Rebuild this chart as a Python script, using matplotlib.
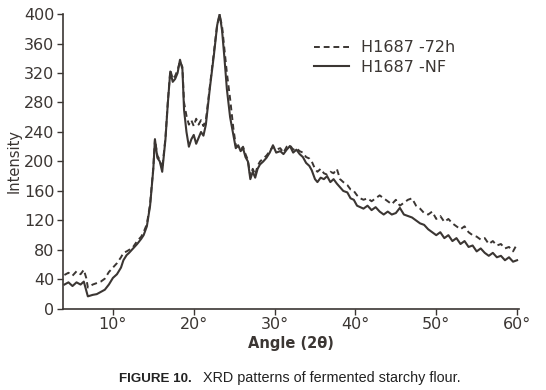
import numpy as np
import matplotlib.pyplot as plt

# diffraction angle (2 theta, degrees), shared by both scans
angle = [4.0, 4.5, 5.0, 5.5, 6.0, 6.4, 6.7, 6.9, 7.5, 8.0, 8.5, 9.0, 9.5, 10.0, 10.5,
         11.0, 11.3, 11.7, 12.0, 12.5, 13.0, 13.5, 13.8, 14.2, 14.6, 15.0, 15.2, 15.5,
         15.8, 16.1, 16.5, 16.8, 17.1, 17.4, 17.7, 18.0, 18.3, 18.6, 18.8, 19.1, 19.4,
         19.7, 20.0, 20.3, 20.6, 20.9, 21.2, 21.5, 22.0, 22.5, 22.9, 23.2, 23.5, 23.8,
         24.1, 24.5, 24.9, 25.2, 25.5, 25.8, 26.1, 26.4, 26.7, 27.0, 27.3, 27.6, 27.9,
         28.2, 28.6, 29.0, 29.4, 29.8, 30.2, 30.7, 31.1, 31.5, 31.9, 32.3, 32.7, 33.1,
         33.5, 33.9, 34.3, 34.6, 35.0, 35.3, 35.7, 36.1, 36.5, 36.9, 37.3, 37.7, 38.1,
         38.5, 39.0, 39.4, 39.8, 40.2, 40.6, 41.0, 41.5, 42.0, 42.5, 43.0, 43.5, 44.0,
         44.5, 45.0, 45.5, 46.0, 46.5, 47.0, 47.5, 48.0, 48.5, 49.0, 49.5, 50.0, 50.5,
         51.0, 51.5, 52.0, 52.5, 53.0, 53.5, 54.0, 54.5, 55.0, 55.5, 56.0, 56.5, 57.0,
         57.5, 58.0, 58.5, 59.0, 59.5, 60.0]

# H1687 - NF (solid)
intensity_nf = [33, 36, 31, 36, 33, 37, 25, 17, 19, 20, 23, 26, 33, 42, 47,
                56, 66, 73, 76, 82, 88, 95, 100, 112, 140, 190, 230, 205,
                200, 186, 230, 280, 322, 308, 312, 320, 338, 325, 270, 240, 220,
                230, 236, 224, 232, 240, 235, 250, 300, 345, 385, 400, 378, 340,
                298, 260, 236, 218, 222, 214, 218, 206, 200, 176, 186, 178, 190,
                196, 200, 205, 212, 222, 212, 214, 210, 216, 221, 212, 216, 210,
                206, 198, 194, 188, 176, 172, 178, 176, 180, 172, 176, 170, 165,
                160, 158, 150, 148, 140, 138, 136, 140, 134, 138, 132, 128, 132,
                128, 130, 137, 128, 126, 124, 120, 116, 114, 108, 104, 100, 104,
                96, 100, 92, 96, 88, 92, 84, 86, 78, 82, 76, 72, 76,
                70, 72, 66, 70, 64, 66]

# H1687 - 72h (dashed)
intensity_72h = [46, 49, 45, 51, 47, 53, 42, 29, 33, 35, 37, 41, 50, 56, 62,
                 70, 76, 78, 80, 84, 92, 98, 104, 115, 142, 192, 230, 208,
                 202, 190, 232, 282, 324, 312, 316, 324, 336, 328, 280, 262, 250,
                 256, 248, 258, 250, 256, 248, 256, 302, 348, 386, 398, 384, 352,
                 320, 285, 245, 222, 220, 216, 220, 210, 202, 180, 190, 182, 194,
                 200, 204, 208, 214, 220, 216, 218, 212, 220, 222, 216, 218, 214,
                 212, 206, 204, 200, 190, 186, 190, 184, 182, 186, 184, 190, 176,
                 172, 168, 162, 160, 154, 150, 148, 150, 146, 150, 154, 150, 146,
                 142, 148, 140, 144, 148, 150, 140, 136, 130, 128, 132, 122, 126,
                 118, 122, 116, 112, 108, 112, 104, 100, 98, 94, 96, 88, 92,
                 86, 88, 82, 84, 78, 88]

x_ticks = [10, 20, 30, 40, 50, 60]
x_labels = ["10°", "20°", "30°", "40°", "50°", "60°"]
y_ticks = list(range(0, 401, 40))

ink = "#3b3633"

fig = plt.figure(figsize=(5.46, 3.9), dpi=100)
ax = fig.add_axes([0.115, 0.208, 0.835, 0.756])

ax.plot(angle, intensity_72h, color=ink, lw=1.4, ls=(0, (3, 2)), label="H1687 -72h")
ax.plot(angle, intensity_nf, color=ink, lw=1.5, label="H1687 -NF")

ax.set_xlim(3.8, 60.2)
ax.set_ylim(0, 400)
ax.set_xticks(x_ticks)
ax.set_xticklabels(x_labels)
ax.set_yticks(y_ticks)
ax.tick_params(colors=ink, labelsize=11.5, length=4, width=1.0, pad=2)

for side in ["top", "right"]:
    ax.spines[side].set_visible(False)
for side in ["left", "bottom"]:
    ax.spines[side].set_color(ink)
    ax.spines[side].set_linewidth(1.2)

ax.set_ylabel("Intensity", fontsize=10.5, color=ink, labelpad=2)
ax.set_xlabel("Angle (2θ)", fontsize=10.5, color=ink, fontweight="bold", labelpad=3)

leg = ax.legend(loc="upper left", bbox_to_anchor=(0.52, 0.96), frameon=False,
                fontsize=11.5, handlelength=2.2, handletextpad=0.7, labelspacing=0.3)
for t in leg.get_texts():
    t.set_color(ink)

fig.text(0.218, 0.02, "FIGURE 10.", fontsize=9.6, fontweight="bold",
         family="Liberation Sans", color="#222222")
fig.text(0.372, 0.02, "XRD patterns of fermented starchy flour.", fontsize=10.4,
         family="Liberation Sans", color="#222222")

fig.savefig("out.png", dpi=100)
